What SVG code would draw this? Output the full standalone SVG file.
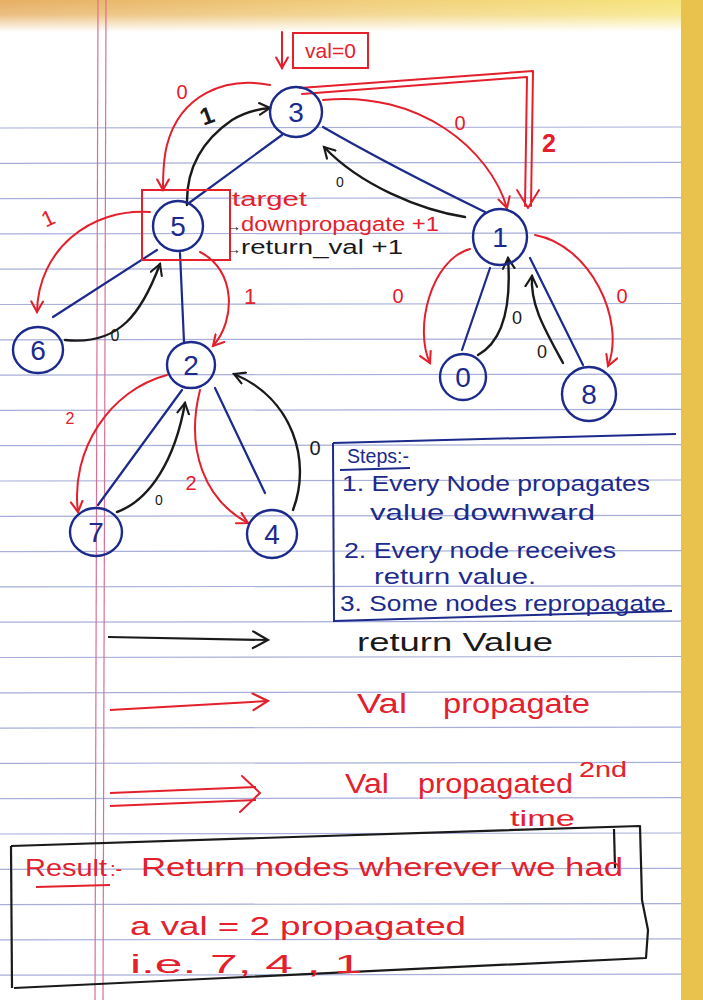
<svg xmlns="http://www.w3.org/2000/svg" width="703" height="1000" viewBox="0 0 703 1000">
<defs>
<linearGradient id="topShade" x1="0" y1="0" x2="1" y2="0">
<stop offset="0" stop-color="#e6ae62"/><stop offset="0.5" stop-color="#f0cd7a"/><stop offset="1" stop-color="#f7e67c"/>
</linearGradient>
<linearGradient id="vfade" x1="0" y1="0" x2="0" y2="1">
<stop offset="0" stop-color="#fff"/><stop offset="0.45" stop-color="#fff" stop-opacity="0.8"/><stop offset="1" stop-color="#fff" stop-opacity="0"/>
</linearGradient>
<mask id="topMask"><rect x="0" y="0" width="703" height="32" fill="url(#vfade)"/></mask>
<marker id="ab" viewBox="0 0 12 12" refX="10" refY="6" markerWidth="14" markerHeight="14" markerUnits="userSpaceOnUse" orient="auto">
<path d="M1,1 L10,6 L1,11" fill="none" stroke="#1a1a1a" stroke-width="1.8" stroke-linecap="round"/>
</marker>
<marker id="ar" viewBox="0 0 12 12" refX="10" refY="6" markerWidth="14" markerHeight="14" markerUnits="userSpaceOnUse" orient="auto">
<path d="M1,1 L10,6 L1,11" fill="none" stroke="#e3202c" stroke-width="1.8" stroke-linecap="round"/>
</marker>
<marker id="arBig" viewBox="0 0 12 12" refX="10" refY="6" markerWidth="20" markerHeight="20" markerUnits="userSpaceOnUse" orient="auto">
<path d="M1,1 L10,6 L1,11" fill="none" stroke="#e3202c" stroke-width="1.3" stroke-linecap="round"/>
</marker>
<marker id="abBig" viewBox="0 0 12 12" refX="10" refY="6" markerWidth="20" markerHeight="20" markerUnits="userSpaceOnUse" orient="auto">
<path d="M1,1 L10,6 L1,11" fill="none" stroke="#1a1a1a" stroke-width="1.3" stroke-linecap="round"/>
</marker>
</defs>
<style>
.paper{stroke:#a7aed8;stroke-width:1.2}
.margin{stroke:#dc6f96;stroke-width:1.2}
.node{fill:none;stroke:#1c2a8c;stroke-width:2.4}
.nl{font-family:"Liberation Sans",sans-serif;font-size:28px;fill:#1c2a8c;text-anchor:middle}
.tree{fill:none;stroke:#1c2a8c;stroke-width:2.2;stroke-linecap:round}
.ret{fill:none;stroke:#1a1a1a;stroke-width:2.4;stroke-linecap:round;marker-end:url(#ab)}
.prop{fill:none;stroke:#e3202c;stroke-width:2;stroke-linecap:round;marker-end:url(#ar)}
.plain-r{fill:none;stroke:#e3202c;stroke-width:2;stroke-linecap:round;stroke-linejoin:round}
.hw{font-family:"Liberation Sans",sans-serif}
.red{fill:#e3202c}
.blk{fill:#1a1a1a}
.navy{fill:#1c2a8c}
.box-b{fill:none;stroke:#1a1a1a;stroke-width:2.2;stroke-linejoin:round}
</style>

<!-- paper -->
<rect x="0" y="0" width="703" height="1000" fill="#ffffff"/>
<rect x="0" y="0" width="703" height="32" fill="url(#topShade)" mask="url(#topMask)"/>
<g id="paper-lines">
<line class="paper" x1="0" y1="128" x2="681" y2="127"/>
<line class="paper" x1="0" y1="163.3" x2="681" y2="162.3"/>
<line class="paper" x1="0" y1="198.6" x2="681" y2="197.6"/>
<line class="paper" x1="0" y1="233.9" x2="681" y2="232.9"/>
<line class="paper" x1="0" y1="269.2" x2="681" y2="268.2"/>
<line class="paper" x1="0" y1="304.5" x2="681" y2="303.5"/>
<line class="paper" x1="0" y1="339.8" x2="681" y2="338.8"/>
<line class="paper" x1="0" y1="375.1" x2="681" y2="374.1"/>
<line class="paper" x1="0" y1="410.4" x2="681" y2="409.4"/>
<line class="paper" x1="0" y1="445.7" x2="681" y2="444.7"/>
<line class="paper" x1="0" y1="481" x2="681" y2="480"/>
<line class="paper" x1="0" y1="516.3" x2="681" y2="515.3"/>
<line class="paper" x1="0" y1="551.6" x2="681" y2="550.6"/>
<line class="paper" x1="0" y1="586.9" x2="681" y2="585.9"/>
<line class="paper" x1="0" y1="622.2" x2="681" y2="621.2"/>
<line class="paper" x1="0" y1="657.5" x2="681" y2="656.5"/>
<line class="paper" x1="0" y1="692.8" x2="681" y2="691.8"/>
<line class="paper" x1="0" y1="728.1" x2="681" y2="727.1"/>
<line class="paper" x1="0" y1="763.4" x2="681" y2="762.4"/>
<line class="paper" x1="0" y1="798.7" x2="681" y2="797.7"/>
<line class="paper" x1="0" y1="834" x2="681" y2="833"/>
<line class="paper" x1="0" y1="869.3" x2="681" y2="868.3"/>
<line class="paper" x1="0" y1="904.6" x2="681" y2="903.6"/>
<line class="paper" x1="0" y1="939.9" x2="681" y2="938.9"/>
<line class="paper" x1="0" y1="975.2" x2="681" y2="974.2"/>
</g>
<line class="margin" x1="98" y1="0" x2="95" y2="1000"/>
<line class="margin" x1="106" y1="0" x2="103" y2="1000"/>
<rect x="681" y="0" width="22" height="1000" fill="#e8c24c"/>

<!-- connectors -->
<g id="connectors">
<!-- tree edges -->
<path class="tree" d="M282,135 L189,203"/>
<path class="tree" d="M323,127 C380,160 440,190 485,212"/>
<path class="tree" d="M180,253 L184,342"/>
<path class="tree" d="M157,250 L53,317"/>
<path class="tree" d="M182,390 L98,505"/>
<path class="tree" d="M215,388 L265,493"/>
<path class="tree" d="M490,268 L462,350"/>
<path class="tree" d="M530,258 L583,365"/>

<!-- return value (black) -->
<path class="ret" d="M187,205 C186,170 200,142 232,120 C245,112 258,109 270,108"/>
<path class="ret" d="M465,217 C420,210 360,185 324,147"/>
<path class="ret" d="M65,340 C120,346 142,312 160,264"/>
<path class="ret" d="M117,512 C150,500 175,460 185,403"/>
<path class="ret" d="M293,510 C312,460 292,398 234,374"/>
<path class="ret" d="M478,355 C505,340 511,300 508,258"/>
<path class="ret" d="M563,363 C545,330 530,305 532,276"/>

<!-- val propagate (red) -->
<path class="prop" d="M270,85 C225,76 180,95 167,145 C163,160 163,175 163,190"/>
<path class="prop" d="M323,100 C420,90 490,150 507,208"/>
<path class="prop" d="M150,212 C90,208 38,250 37,312"/>
<path class="prop" d="M200,252 C236,270 236,320 213,346"/>
<path class="prop" d="M167,375 C110,390 70,450 78,512"/>
<path class="prop" d="M200,390 C185,450 205,500 248,523"/>
<path class="prop" d="M470,249 C430,260 414,330 430,363"/>
<path class="prop" d="M535,235 C590,245 626,320 608,366"/>
<!-- val propagated 2nd time (double red) -->
<path class="plain-r" d="M300,88 L533,71 L531,206"/>
<path class="plain-r" d="M302,94 L527,77 L525,206"/>
<path class="plain-r" d="M517,190 L528,208 L539,190"/>
<!-- val=0 arrow -->
<path class="prop" d="M282,32 L282,68"/>
</g>

<!-- edge labels -->
<g id="edge-labels" class="hw">
<text class="red" x="182" y="99" font-size="20" text-anchor="middle">0</text>
<text class="red" x="460" y="130" font-size="20" text-anchor="middle">0</text>
<text class="red" x="549" y="152" font-size="25" font-weight="bold" text-anchor="middle">2</text>
<text class="red" x="48" y="226" font-size="22" text-anchor="middle" transform="rotate(-25 48 218)">1</text>
<text class="red" x="250" y="304" font-size="22" text-anchor="middle">1</text>
<text class="red" x="70" y="424" font-size="16" text-anchor="middle">2</text>
<text class="red" x="191" y="490" font-size="20" text-anchor="middle">2</text>
<text class="red" x="398" y="303" font-size="20" text-anchor="middle">0</text>
<text class="red" x="622" y="303" font-size="20" text-anchor="middle">0</text>
<text class="blk" x="207" y="124" font-size="24" font-weight="bold" text-anchor="middle" transform="rotate(-20 207 116)">1</text>
<text class="blk" x="340" y="187" font-size="14" text-anchor="middle">0</text>
<text class="blk" x="115" y="341" font-size="16" text-anchor="middle">0</text>
<text class="blk" x="159" y="505" font-size="14" text-anchor="middle">0</text>
<text class="blk" x="315" y="455" font-size="20" text-anchor="middle">0</text>
<text class="blk" x="517" y="324" font-size="18" text-anchor="middle">0</text>
<text class="blk" x="542" y="358" font-size="18" text-anchor="middle">0</text>
</g>

<!-- val=0 box -->
<g id="val0">
<rect x="293" y="33" width="75" height="35" fill="none" stroke="#e3202c" stroke-width="2"/>
<text class="hw red" x="330.5" y="58" font-size="21" text-anchor="middle">val=0</text>
</g>

<!-- nodes -->
<g id="node-3"><ellipse class="node" cx="296" cy="112" rx="26" ry="25"/><text class="nl" x="296" y="122">3</text></g>
<g id="node-5">
<rect x="142" y="190" width="88" height="70" fill="none" stroke="#e3202c" stroke-width="2"/>
<ellipse class="node" cx="178" cy="226" rx="25" ry="25"/><text class="nl" x="178" y="236">5</text>
<text class="hw red" x="232" y="206" font-size="20" textLength="75" lengthAdjust="spacingAndGlyphs">target</text>
<text class="hw" x="227" y="231" font-size="20"><tspan class="blk" font-size="14">→</tspan><tspan class="red" textLength="198" lengthAdjust="spacingAndGlyphs">downpropagate +1</tspan></text>
<text class="hw" x="227" y="254" font-size="20"><tspan class="blk" font-size="14">→</tspan><tspan class="blk" textLength="162" lengthAdjust="spacingAndGlyphs">return_val +1</tspan></text>
</g>
<g id="node-1"><ellipse class="node" cx="500" cy="237" rx="27" ry="28"/><text class="nl" x="500" y="247">1</text></g>
<g id="node-6"><ellipse class="node" cx="38" cy="350" rx="25" ry="23"/><text class="nl" x="38" y="360">6</text></g>
<g id="node-2"><ellipse class="node" cx="191" cy="365" rx="24" ry="23"/><text class="nl" x="191" y="375">2</text></g>
<g id="node-7"><ellipse class="node" cx="96" cy="532" rx="26" ry="24"/><text class="nl" x="96" y="542">7</text></g>
<g id="node-4"><ellipse class="node" cx="272" cy="534" rx="25" ry="24"/><text class="nl" x="272" y="544">4</text></g>
<g id="node-0"><ellipse class="node" cx="463" cy="377" rx="23" ry="23"/><text class="nl" x="463" y="387" font-size="30">0</text></g>
<g id="node-8"><ellipse class="node" cx="589" cy="394" rx="27" ry="27"/><text class="nl" x="589" y="404">8</text></g>

<!-- steps box -->
<g id="steps">
<path d="M333,443 L676,434" fill="none" stroke="#1c2a8c" stroke-width="2"/>
<path d="M333,443 L334,622" fill="none" stroke="#1c2a8c" stroke-width="2"/>
<path d="M334,621 L672,611" fill="none" stroke="#1c2a8c" stroke-width="2"/>
<text class="hw navy" x="347" y="463" font-size="20" textLength="62" lengthAdjust="spacingAndGlyphs">Steps:-</text>
<line x1="340" y1="470" x2="410" y2="468" stroke="#1c2a8c" stroke-width="1.8"/>
<text class="hw navy" x="342" y="491" font-size="22" textLength="308" lengthAdjust="spacingAndGlyphs">1. Every Node propagates</text>
<text class="hw navy" x="370" y="520" font-size="22" textLength="225" lengthAdjust="spacingAndGlyphs">value downward</text>
<text class="hw navy" x="344" y="558" font-size="22" textLength="272" lengthAdjust="spacingAndGlyphs">2. Every node receives</text>
<text class="hw navy" x="374" y="584" font-size="22" textLength="162" lengthAdjust="spacingAndGlyphs">return value.</text>
<text class="hw navy" x="340" y="611" font-size="22" textLength="326" lengthAdjust="spacingAndGlyphs">3. Some nodes repropagate</text>
</g>

<!-- legend -->
<g id="legend">
<path d="M108,637 L268,640" fill="none" stroke="#1a1a1a" stroke-width="2.2" marker-end="url(#abBig)"/>
<text class="hw blk" x="357" y="651" font-size="25" textLength="196" lengthAdjust="spacingAndGlyphs">return Value</text>
<path d="M110,710 L268,701" fill="none" stroke="#e3202c" stroke-width="2" marker-end="url(#arBig)"/>
<text class="hw red" x="357" y="713" font-size="27" textLength="50" lengthAdjust="spacingAndGlyphs">Val</text>
<text class="hw red" x="443" y="713" font-size="27" textLength="147" lengthAdjust="spacingAndGlyphs">propagate</text>
<path d="M110,793 L256,787" fill="none" stroke="#e3202c" stroke-width="2"/>
<path d="M110,806 L256,800" fill="none" stroke="#e3202c" stroke-width="2"/>
<path d="M242,776 L260,793 L240,812" fill="none" stroke="#e3202c" stroke-width="2" stroke-linecap="round" stroke-linejoin="round"/>
<text class="hw red" x="345" y="793" font-size="27" textLength="44" lengthAdjust="spacingAndGlyphs">Val</text>
<text class="hw red" x="418" y="793" font-size="27" textLength="155" lengthAdjust="spacingAndGlyphs">propagated</text>
<text class="hw red" x="579" y="777" font-size="22" textLength="48" lengthAdjust="spacingAndGlyphs">2nd</text>
<text class="hw red" x="510" y="826" font-size="22" textLength="65" lengthAdjust="spacingAndGlyphs">time</text>
</g>

<!-- result box -->
<g id="result">
<path class="box-b" d="M11,846 L640,826 L642,900 L648,930 L646,958 L14,988"/>
<path class="box-b" d="M11,846 L12,988"/>
<path class="box-b" d="M614,829 L615,868"/>
<text class="hw red" x="25" y="876" font-size="24" textLength="82" lengthAdjust="spacingAndGlyphs">Result</text>
<line x1="36" y1="887" x2="110" y2="885" stroke="#e3202c" stroke-width="1.8"/>
<text class="hw red" x="110" y="876" font-size="20">:-</text>
<text class="hw red" x="141" y="876" font-size="26" textLength="482" lengthAdjust="spacingAndGlyphs">Return nodes wherever we had</text>
<text class="hw red" x="130" y="935" font-size="26" textLength="336" lengthAdjust="spacingAndGlyphs">a val = 2  propagated</text>
<text class="hw red" x="130" y="973" font-size="26" textLength="232" lengthAdjust="spacingAndGlyphs">i.e.  7, 4 , 1</text>
</g>
</svg>
